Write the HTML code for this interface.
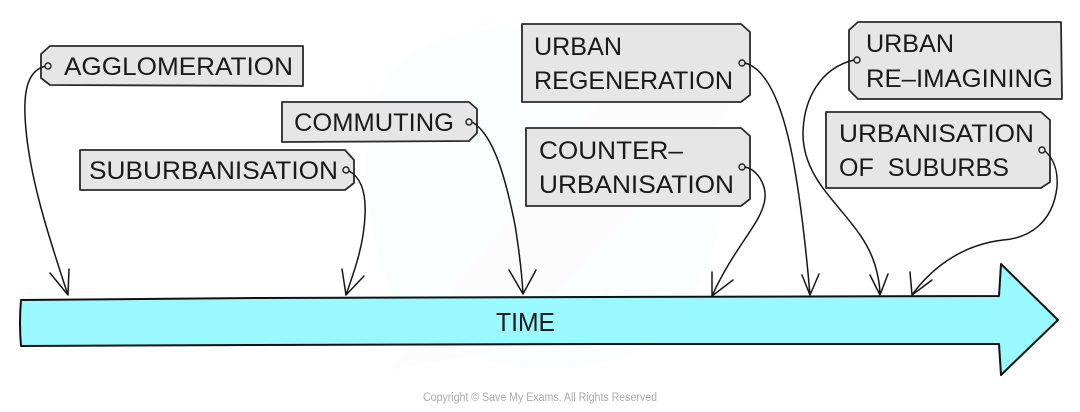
<!DOCTYPE html>
<html><head><meta charset="utf-8"><style>
html,body{margin:0;padding:0;background:#fff;width:1080px;height:412px;overflow:hidden}
svg{display:block}
text{font-family:"Liberation Sans",sans-serif;font-size:25px;fill:#1a1a1a}
.t{fill:#e6e6e6;stroke:#2a2a2a;stroke-width:1.8;stroke-linejoin:round}
.c{fill:none;stroke:#161616;stroke-width:1.5;stroke-linecap:round;stroke-linejoin:round}
.h{fill:#e6e6e6;stroke:#222;stroke-width:1.4}
</style></head><body>
<svg width="1080" height="412" viewBox="0 0 1080 412" xmlns="http://www.w3.org/2000/svg">
<!-- watermark -->
<path d="M400 60C480 5 620 20 690 100C750 170 720 300 640 350C560 385 440 370 395 300C360 230 350 110 400 60Z" fill="#fbfeff"/>
<path d="M390 370L600 100L700 40L730 110L500 350Z" fill="#fcfcfc"/>

<!-- time arrow -->
<path d="M21 300L260 298L600 297L999 296L1001 264L1058 320L1001 375L999 344L600 344L260 345L21 346Q19 323 21 300Z" fill="#99f9ff" stroke="#111" stroke-width="2" stroke-linejoin="round"/>
<text x="496" y="331" textLength="59" lengthAdjust="spacingAndGlyphs" style="font-size:26px">TIME</text>

<!-- tags -->
<path class="t" d="M50 46H303V86L50 85L41 78V54Z"/>
<path class="t" d="M80 150H345L354 160V183L345 190H80Z"/>
<path class="t" d="M282 102H469L477 109V133L469 141L282 142Z"/>
<path class="t" d="M522 24H741L750 32V95L741 102L522 102Z"/>
<path class="t" d="M526 128H741L750 136V199L741 206L526 206Z"/>
<path class="t" d="M858 22H1061L1062 99H858L849 90V30Z"/>
<path class="t" d="M826 112H1041L1050 120V182L1041 188H826Z"/>

<!-- labels -->
<text x="64" y="75" textLength="229" lengthAdjust="spacingAndGlyphs">AGGLOMERATION</text>
<text x="89" y="179" textLength="249" lengthAdjust="spacingAndGlyphs">SUBURBANISATION</text>
<text x="294" y="131" textLength="160" lengthAdjust="spacingAndGlyphs">COMMUTING</text>
<text x="534" y="55" textLength="88" lengthAdjust="spacingAndGlyphs">URBAN</text>
<text x="534" y="89" textLength="199" lengthAdjust="spacingAndGlyphs">REGENERATION</text>
<text x="539" y="159" textLength="144" lengthAdjust="spacingAndGlyphs">COUNTER–</text>
<text x="539" y="193" textLength="195" lengthAdjust="spacingAndGlyphs">URBANISATION</text>
<text x="866" y="52" textLength="88" lengthAdjust="spacingAndGlyphs">URBAN</text>
<text x="866" y="87" textLength="187" lengthAdjust="spacingAndGlyphs">RE–IMAGINING</text>
<text x="839" y="142" textLength="195" lengthAdjust="spacingAndGlyphs">URBANISATION</text>
<text x="839" y="176" textLength="170" lengthAdjust="spacingAndGlyphs" xml:space="preserve">OF  SUBURBS</text>

<!-- connectors -->
<path class="c" d="M46 66C28 70 24 90 25 115C27 170 48 235 68 295M50 273L68 295L69 269"/>
<path class="c" d="M349 171C362 178 366 195 365 215C364 245 354 272 346 295M342 269L346 295L364 276"/>
<path class="c" d="M472 122C495 135 507 185 515 225C519 250 522 275 523 294M509 270L523 294L536 270"/>
<path class="c" d="M745 167C758 170 766 185 765 198C763 222 735 245 712 296M712 272L712 296L733 280"/>
<path class="c" d="M745 63C770 70 785 115 794 165C802 210 807 260 810 295M802 275L810 295L819 274"/>
<path class="c" d="M854 60C820 68 803 100 803 135C804 190 860 215 875 265C878 275 880 285 880 295M870 275L880 295L888 274"/>
<path class="c" d="M1045 151C1055 160 1058 172 1057 187C1053 222 1030 238 1003 240C960 245 930 270 912 295M910 272L912 295L932 280"/>

<!-- holes -->
<circle class="h" cx="48" cy="66" r="3"/>
<circle class="h" cx="346" cy="170" r="3"/>
<circle class="h" cx="469" cy="122" r="3"/>
<circle class="h" cx="742" cy="63" r="3"/>
<circle class="h" cx="742" cy="167" r="3"/>
<circle class="h" cx="857" cy="60" r="3"/>
<circle class="h" cx="1042" cy="150" r="3"/>

<text x="423" y="401" textLength="234" lengthAdjust="spacingAndGlyphs" style="font-size:11.5px;fill:#aaa">Copyright © Save My Exams. All Rights Reserved</text>
</svg>
</body></html>
